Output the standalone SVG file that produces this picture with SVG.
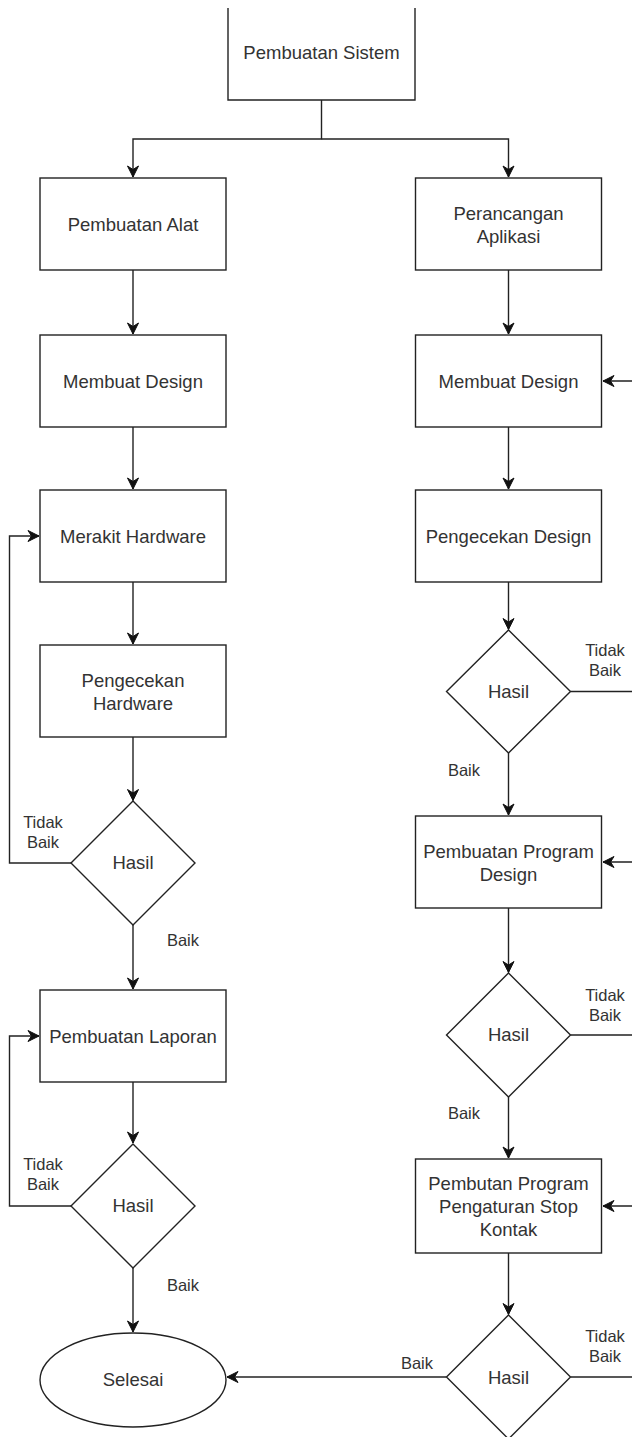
<svg xmlns="http://www.w3.org/2000/svg" width="632" height="1437" viewBox="0 0 632 1437">
<style>
.box{fill:#fff;stroke:#222;stroke-width:1.4}
.t{font-family:"Liberation Sans",Arial,sans-serif;font-size:18.5px;fill:#333;text-anchor:middle;dominant-baseline:central}
.l{font-family:"Liberation Sans",Arial,sans-serif;font-size:16.5px;fill:#333;text-anchor:middle;dominant-baseline:central}
.c{fill:none;stroke:#222;stroke-width:1.4}
</style>
<defs>
<marker id="a" markerUnits="userSpaceOnUse" markerWidth="14" markerHeight="14" refX="12" refY="7" orient="auto">
<path d="M1,1.5 L12,7 L1,12.5 L4.5,7 Z" fill="#111" stroke="#111" stroke-width="1"/>
</marker>
</defs>
<rect width="632" height="1437" fill="#fff"/>
<g id="connectors">
<path class="c" d="M321.5,100 V139 H133 V177" marker-end="url(#a)"/>
<path class="c" d="M321.5,139 H508.5 V177" marker-end="url(#a)"/>
<path class="c" d="M133,270 V334" marker-end="url(#a)"/>
<path class="c" d="M133,427 V489" marker-end="url(#a)"/>
<path class="c" d="M133,582 V644" marker-end="url(#a)"/>
<path class="c" d="M133,737 V800.5" marker-end="url(#a)"/>
<path class="c" d="M133,925 V989" marker-end="url(#a)"/>
<path class="c" d="M133,1082 V1143" marker-end="url(#a)"/>
<path class="c" d="M133,1268 V1332" marker-end="url(#a)"/>
<path class="c" d="M72.5,863 H9.5 V536 H39" marker-end="url(#a)"/>
<path class="c" d="M72.5,1206 H9.5 V1036 H39" marker-end="url(#a)"/>
<path class="c" d="M508.5,270 V334" marker-end="url(#a)"/>
<path class="c" d="M508.5,427 V489" marker-end="url(#a)"/>
<path class="c" d="M508.5,582 V629.5" marker-end="url(#a)"/>
<path class="c" d="M508.5,753 V815" marker-end="url(#a)"/>
<path class="c" d="M508.5,908 V972.5" marker-end="url(#a)"/>
<path class="c" d="M508.5,1097 V1158" marker-end="url(#a)"/>
<path class="c" d="M508.5,1253 V1314.5" marker-end="url(#a)"/>
<path class="c" d="M570.5,691.5 H650 V381 H603" marker-end="url(#a)"/>
<path class="c" d="M570.5,1035 H650 V862 H603" marker-end="url(#a)"/>
<path class="c" d="M570.5,1377 H650 V1206 H603" marker-end="url(#a)"/>
<path class="c" d="M446.5,1377 H227" marker-end="url(#a)"/>
<text class="l" x="43" y="822">Tidak</text>
<text class="l" x="43" y="842">Baik</text>
<text class="l" x="183" y="940">Baik</text>
<text class="l" x="43" y="1164">Tidak</text>
<text class="l" x="43" y="1184">Baik</text>
<text class="l" x="183" y="1285">Baik</text>
<text class="l" x="605" y="650">Tidak</text>
<text class="l" x="605" y="670">Baik</text>
<text class="l" x="464" y="770">Baik</text>
<text class="l" x="605" y="995">Tidak</text>
<text class="l" x="605" y="1015">Baik</text>
<text class="l" x="464" y="1113">Baik</text>
<text class="l" x="605" y="1336">Tidak</text>
<text class="l" x="605" y="1356">Baik</text>
<text class="l" x="417" y="1363">Baik</text>
</g>
<g id="sistem">
<path class="box" d="M228,8 V100 H415 V8"/>
<text class="t" x="321.5" y="52">Pembuatan Sistem</text>
</g>
<g id="alat">
<rect class="box" x="40" y="178" width="186" height="92"/>
<text class="t" x="133" y="224">Pembuatan Alat</text>
</g>
<g id="design-l">
<rect class="box" x="40" y="335" width="186" height="92"/>
<text class="t" x="133" y="381">Membuat Design</text>
</g>
<g id="merakit">
<rect class="box" x="40" y="490" width="186" height="92"/>
<text class="t" x="133" y="536">Merakit Hardware</text>
</g>
<g id="cek-hw">
<rect class="box" x="40" y="645" width="186" height="92"/>
<text class="t" x="133" y="680">Pengecekan</text>
<text class="t" x="133" y="703">Hardware</text>
</g>
<g id="hasil-l1">
<polygon class="box" points="133,801 195,863 133,925 71,863"/>
<text class="t" x="133" y="862">Hasil</text>
</g>
<g id="laporan">
<rect class="box" x="40" y="990" width="186" height="92"/>
<text class="t" x="133" y="1036">Pembuatan Laporan</text>
</g>
<g id="hasil-l2">
<polygon class="box" points="133,1144 195,1206 133,1268 71,1206"/>
<text class="t" x="133" y="1205">Hasil</text>
</g>
<g id="selesai">
<ellipse class="box" cx="133" cy="1380" rx="93" ry="47"/>
<text class="t" x="133" y="1379">Selesai</text>
</g>
<g id="aplikasi">
<rect class="box" x="415.5" y="178" width="186" height="92"/>
<text class="t" x="508.5" y="213">Perancangan</text>
<text class="t" x="508.5" y="236">Aplikasi</text>
</g>
<g id="design-r">
<rect class="box" x="415.5" y="335" width="186" height="92"/>
<text class="t" x="508.5" y="381">Membuat Design</text>
</g>
<g id="cek-design">
<rect class="box" x="415.5" y="490" width="186" height="92"/>
<text class="t" x="508.5" y="536">Pengecekan Design</text>
</g>
<g id="hasil-r1">
<polygon class="box" points="508.5,630 570.5,691.5 508.5,753 446.5,691.5"/>
<text class="t" x="508.5" y="691">Hasil</text>
</g>
<g id="program-design">
<rect class="box" x="415.5" y="816" width="186" height="92"/>
<text class="t" x="508.5" y="851">Pembuatan Program</text>
<text class="t" x="508.5" y="874">Design</text>
</g>
<g id="hasil-r2">
<polygon class="box" points="508.5,973 570.5,1035 508.5,1097 446.5,1035"/>
<text class="t" x="508.5" y="1034">Hasil</text>
</g>
<g id="program-stop">
<rect class="box" x="415.5" y="1159" width="186" height="94"/>
<text class="t" x="508.5" y="1183">Pembutan Program</text>
<text class="t" x="508.5" y="1206">Pengaturan Stop</text>
<text class="t" x="508.5" y="1229">Kontak</text>
</g>
<g id="hasil-r3">
<polygon class="box" points="508.5,1315 570.5,1377 508.5,1439 446.5,1377"/>
<text class="t" x="508.5" y="1377">Hasil</text>
</g>
</svg>
